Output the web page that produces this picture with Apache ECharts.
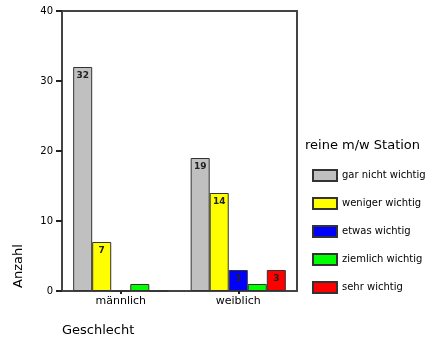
<!DOCTYPE html>
<html>
<head>
<meta charset="utf-8">
<script src="https://cdn.jsdelivr.net/npm/echarts@6/dist/echarts.min.js"></script>
<style>
  html, body { margin: 0; padding: 0; background: #fff; }
  #chart { width: 430px; height: 342px; }
</style>
</head>
<body>
<div id="chart"></div>
<script>
// Anzahl nach Geschlecht, gruppiert nach Wichtigkeit einer reinen m/w Station
const categories = ['männlich', 'weiblich'];
const seriesNames = ['gar nicht wichtig', 'weniger wichtig', 'etwas wichtig', 'ziemlich wichtig', 'sehr wichtig'];
const garNichtWichtig = [32, 19];
const wenigerWichtig = [7, 14];
const etwasWichtig = [0, 3];
const ziemlichWichtig = [1, 1];
const sehrWichtig = [0, 3];
const seriesColors = ['#c0c0c0', '#ffff00', '#0000ff', '#00ff00', '#ff0000'];
const yTicks = [0, 10, 20, 30, 40];

const FONT = 'DejaVu Sans';
const values = [garNichtWichtig, wenigerWichtig, etwasWichtig, ziemlichWichtig, sehrWichtig];

const chart = echarts.init(document.getElementById('chart'), null, { renderer: 'canvas' });

const series = seriesNames.map((name, i) => ({
  name: name,
  type: 'bar',
  data: values[i],
  barGap: '0%',
  barCategoryGap: '19%',
  itemStyle: { color: seriesColors[i], borderColor: '#333', borderWidth: 1 },
  label: {
    show: true,
    position: 'insideTop',
    distance: 4,
    color: '#222',
    fontFamily: FONT,
    fontSize: 9,
    fontWeight: 'bold',
    formatter: p => (p.value >= 3 ? String(p.value) : '')
  },
  emphasis: { disabled: true }
}));

chart.setOption({
  animation: false,
  backgroundColor: '#fff',
  title: {
    text: 'reine m/w Station',
    left: 300,
    top: 134,
    textStyle: { fontFamily: FONT, fontSize: 13, fontWeight: 'normal', color: '#000' }
  },
  legend: {
    orient: 'vertical',
    left: 307,
    top: 164,
    icon: 'rect',
    itemWidth: 24,
    itemHeight: 11,
    itemGap: 15,
    data: seriesNames,
    selectedMode: false,
    textStyle: { fontFamily: FONT, fontSize: 10, color: '#000' }
  },
  grid: {
    left: 62, right: 133, top: 11, bottom: 51,
    show: true, borderColor: '#444', borderWidth: 2, backgroundColor: 'transparent'
  },
  xAxis: {
    type: 'category',
    data: categories,
    axisLine: { show: true, lineStyle: { color: '#444', width: 2 } },
    axisTick: { show: true, alignWithLabel: true, length: 3, lineStyle: { color: '#222', width: 2 } },
    axisLabel: { color: '#000', fontFamily: FONT, fontSize: 11, margin: 5 }
  },
  yAxis: {
    type: 'value',
    min: yTicks[0],
    max: yTicks[yTicks.length - 1],
    interval: 10,
    splitLine: { show: false },
    axisLine: { show: true, lineStyle: { color: '#444', width: 2 } },
    axisTick: { show: true, length: 6, lineStyle: { color: '#222', width: 2 } },
    axisLabel: { color: '#000', fontFamily: FONT, fontSize: 10, margin: 9 }
  },
  graphic: [
    {
      type: 'text',
      x: 19, y: 266,
      rotation: Math.PI / 2,
      style: {
        text: 'Anzahl', fill: '#000', font: '13px "DejaVu Sans"',
        textAlign: 'center', textVerticalAlign: 'middle'
      }
    },
    {
      type: 'text',
      x: 62, y: 331,
      style: {
        text: 'Geschlecht', fill: '#000', font: '13px "DejaVu Sans"',
        textAlign: 'left', textVerticalAlign: 'middle'
      }
    }
  ],
  series: series
});
</script>
</body>
</html>
